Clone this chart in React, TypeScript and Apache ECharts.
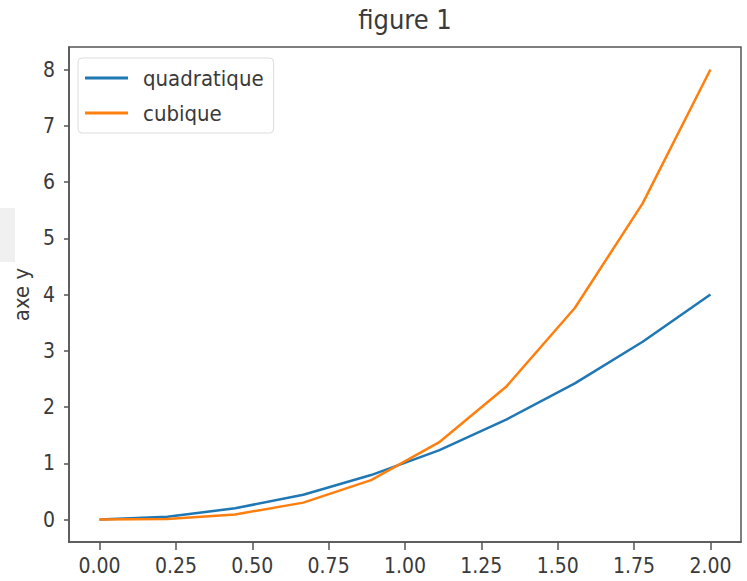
import React, { useEffect, useRef } from "react";
import * as echarts from "echarts";

const xValues = [0, 0.222, 0.444, 0.667, 0.889, 1.111, 1.333, 1.556, 1.778, 2.0];
const quadratique = [0, 0.05, 0.2, 0.44, 0.79, 1.23, 1.78, 2.42, 3.16, 4.0];
const cubique = [0, 0.01, 0.09, 0.3, 0.7, 1.37, 2.37, 3.76, 5.62, 8.0];
const xTicks = [0, 0.25, 0.5, 0.75, 1, 1.25, 1.5, 1.75, 2];
const yTicks = [0, 1, 2, 3, 4, 5, 6, 7, 8];
const seriesNames = ["quadratique", "cubique"];
const titleText = "figure 1";
const yAxisName = "axe y";

const FONT = "'DejaVu Sans Condensed', 'Liberation Sans Narrow', 'DejaVu Sans', sans-serif";
const TEXT = "#3a3a3a";
const FRAME = "#555555";

export default function App() {
  const ref = useRef<HTMLDivElement>(null);

  useEffect(() => {
    if (!ref.current) return;
    const chart = echarts.init(ref.current, undefined, { renderer: "svg" });
    const option = {
      animation: false,
      backgroundColor: "#ffffff",
      title: {
        text: titleText,
        left: 405,
        top: 6,
        textAlign: "center",
        padding: 0,
        textStyle: { fontFamily: FONT, fontSize: 27, fontWeight: "normal", color: TEXT },
      },
      legend: {
        orient: "vertical",
        left: 78,
        top: 58,
        padding: [9, 10, 9, 7],
        itemGap: 13,
        itemWidth: 43,
        itemHeight: 3,
        icon: "rect",
        borderColor: "#dddddd",
        borderWidth: 1,
        borderRadius: 4,
        backgroundColor: "rgba(255,255,255,0.8)",
        textStyle: { fontFamily: FONT, fontSize: 22, color: TEXT, padding: [0, 0, 0, 10] },
        data: seriesNames,
      },
      grid: {
        left: 69,
        right: 6,
        top: 47,
        bottom: 39,
        show: true,
        borderColor: FRAME,
        borderWidth: 1.5,
        containLabel: false,
      },
      xAxis: {
        type: "value",
        min: -0.1,
        max: 2.1,
        splitLine: { show: false },
        axisLine: { show: true, onZero: false, lineStyle: { color: FRAME, width: 1.5 } },
        axisTick: {
          show: true,
          length: 8,
          lineStyle: { color: FRAME, width: 1.5 },
          customValues: xTicks,
        },
        axisLabel: {
          customValues: xTicks,
          formatter: (v: number) => v.toFixed(2),
          fontFamily: FONT,
          fontSize: 21,
          color: TEXT,
          margin: 13,
        },
      },
      yAxis: {
        type: "value",
        min: -0.4,
        max: 8.4,
        name: yAxisName,
        nameLocation: "middle",
        nameGap: 36,
        nameTextStyle: { fontFamily: FONT, fontSize: 22, color: TEXT },
        splitLine: { show: false },
        axisLine: { show: true, onZero: false, lineStyle: { color: FRAME, width: 1.5 } },
        axisTick: {
          show: true,
          length: 5,
          lineStyle: { color: FRAME, width: 1.5 },
          customValues: yTicks,
        },
        axisLabel: {
          customValues: yTicks,
          formatter: (v: number) => String(v),
          fontFamily: FONT,
          fontSize: 21,
          color: TEXT,
          margin: 14,
        },
      },
      graphic: [
        {
          type: "rect",
          left: 0,
          top: 208,
          shape: { width: 15, height: 54 },
          style: { fill: "#f0f0f0" },
          z: -1,
        },
      ],
      series: [
        {
          name: seriesNames[0],
          type: "line",
          data: xValues.map((x, i) => [x, quadratique[i]]),
          showSymbol: false,
          symbol: "none",
          lineStyle: { color: "#1f77b4", width: 2.5 },
          itemStyle: { color: "#1f77b4" },
        },
        {
          name: seriesNames[1],
          type: "line",
          data: xValues.map((x, i) => [x, cubique[i]]),
          showSymbol: false,
          symbol: "none",
          lineStyle: { color: "#ff7f0e", width: 2.5 },
          itemStyle: { color: "#ff7f0e" },
        },
      ],
    };
    chart.setOption(option as any);
    return () => chart.dispose();
  }, []);

  return (
    <div
      ref={ref}
      style={{ position: "fixed", left: 0, top: 0, width: 747, height: 581, background: "#fff" }}
    />
  );
}
